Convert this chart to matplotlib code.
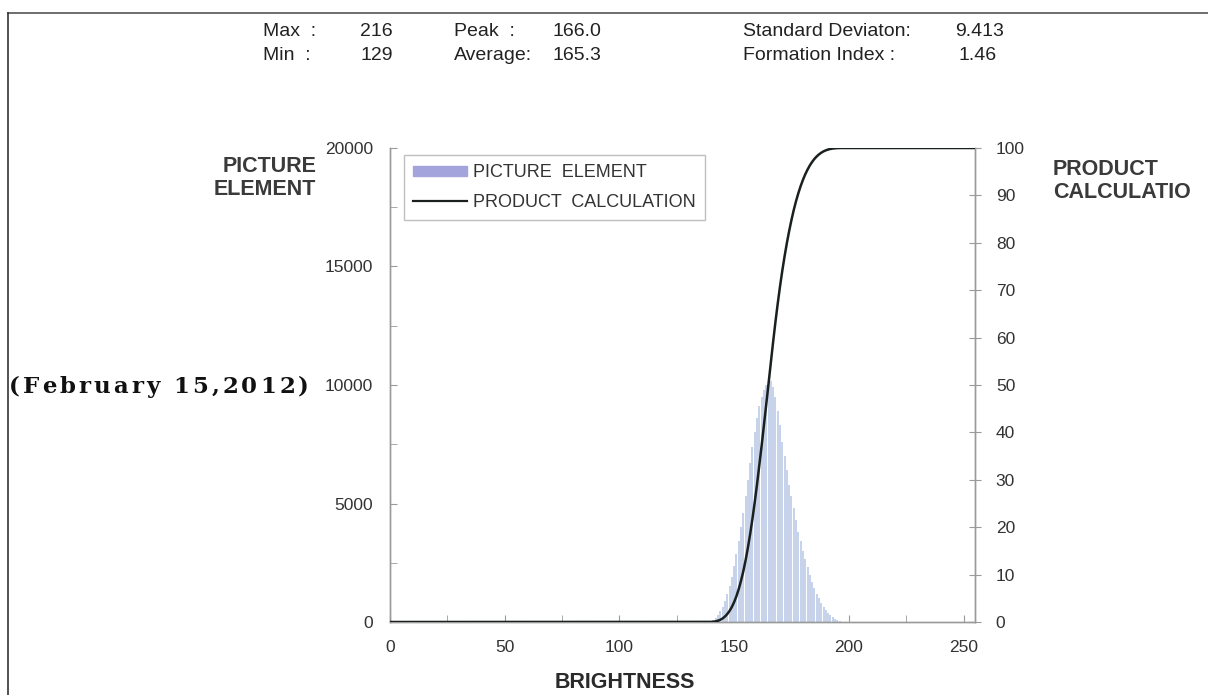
import numpy as np
import matplotlib
matplotlib.use('Agg')
import matplotlib.pyplot as plt
from matplotlib.lines import Line2D
from matplotlib.ticker import MultipleLocator

# brightness histogram (bins of width 1)
brightness = np.arange(140, 197)
counts = np.array([
    50, 100, 180, 300, 450, 650, 900, 1200, 1500, 1900,
    2350, 2850, 3400, 4000, 4600, 5300, 6000, 6700, 7400, 8000,
    8600, 9100, 9500, 9800, 10000, 10100, 10150, 9900, 9500, 8900,
    8300, 7600, 7000, 6400, 5800, 5300, 4800, 4300, 3800, 3400,
    3000, 2650, 2300, 2000, 1700, 1450, 1200, 1000, 800, 650,
    500, 380, 280, 200, 130, 80, 40])

stat_names = [['Max  :', 'Peak  :', 'Standard Deviaton:'],
              ['Min  :', 'Average:', 'Formation Index :']]
stat_vals = [['216', '166.0', '9.413'],
             ['129', '165.3', '1.46']]

x_ticks = [0, 50, 100, 150, 200, 250]
y_ticks = [0, 5000, 10000, 15000, 20000]
y2_ticks = list(range(0, 101, 10))

# cumulative ("product calculation") over the whole 0..255 range
full_x = np.arange(0, 256)
full_counts = np.zeros(256)
full_counts[brightness] = counts
cumul = np.cumsum(full_counts) / full_counts.sum() * 100

W, H = 1208, 695
plt.rcParams['font.family'] = ['Liberation Sans', 'DejaVu Sans']

fig = plt.figure(figsize=(W/100, H/100), dpi=100)
ax = fig.add_axes([390/W, 1-622/H, 585/W, 474/H])
ax2 = ax.twinx()

ax.bar(brightness, counts, width=0.88, color='#c6d3ea', edgecolor='none', zorder=2)
ax2.plot(full_x, cumul, color='#1a1f1f', lw=1.8, zorder=3)

ax.set_xlim(0, 255)
ax.set_ylim(0, 20000)
ax2.set_ylim(0, 100)
ax.set_xticks(x_ticks)
ax.xaxis.set_minor_locator(MultipleLocator(25))
ax.set_yticks(y_ticks)
ax.yaxis.set_minor_locator(MultipleLocator(2500))
ax2.set_yticks(y2_ticks)

for a in (ax, ax2):
    for s in a.spines.values():
        s.set_color('#9a9a9a')
        s.set_linewidth(1.0)
    a.spines['top'].set_visible(False)
ax.tick_params(axis='both', which='both', colors='#9a9a9a', labelcolor='#333333', labelsize=12.5)
ax.tick_params(axis='x', which='both', direction='in', length=5, pad=13)
ax.tick_params(axis='y', which='both', direction='in', length=5, pad=12)
ax2.tick_params(axis='y', colors='#9a9a9a', labelcolor='#333333', labelsize=12.5,
                direction='inout', length=8, pad=11)

# legend
handles = [plt.Rectangle((0, 0), 1, 1, color='#a4a4dc'),
           Line2D([0], [0], color='#1a1f1f', lw=1.6)]
leg = ax.legend(handles, ['PICTURE  ELEMENT', 'PRODUCT  CALCULATION'],
                loc='upper left', bbox_to_anchor=(0.012, 1.0), fontsize=13,
                frameon=True, fancybox=False, handlelength=3.0, handleheight=0.5,
                borderpad=0.5, labelspacing=0.7, handletextpad=0.3, borderaxespad=0.4)
leg.get_frame().set_edgecolor('#b0b0b0')
leg.get_frame().set_linewidth(1.0)
for t in leg.get_texts():
    t.set_color('#333333')

# axis titles
fig.text(316/W, 1-178/H, 'PICTURE\nELEMENT', ha='right', va='center',
         fontsize=15.5, fontweight='bold', color='#3a3a3a', linespacing=1.15)
fig.text(1053/W, 1-181/H, 'PRODUCT\nCALCULATIO', ha='left', va='center',
         fontsize=15.5, fontweight='bold', color='#3a3a3a', linespacing=1.15)
fig.text(625/W, 1-682/H, 'BRIGHTNESS', ha='center', va='center',
         fontsize=15.5, fontweight='bold', color='#2a2a2a')

# date label, drawn letter by letter to get the wide tracking of the original
renderer = fig.canvas.get_renderer()
date_str = '(February 15,2012)'
date_kw = dict(ha='left', va='center', fontsize=16.5, fontweight='bold',
               color='#111111', family='DejaVu Serif')
widths = []
for ch in date_str:
    t = fig.text(0, 0, ch, **date_kw)
    widths.append(t.get_window_extent(renderer).width)
    t.remove()
track = (300 - sum(widths)) / (len(date_str) - 1)
xpos = 9
for ch, w in zip(date_str, widths):
    fig.text(xpos/W, 1-387/H, ch, **date_kw)
    xpos += w + track

# statistics header
name_x = [263, 454, 743]
val_x = [360, 553, 955]
for i in range(2):
    yy = 1 - (32 + 23*i)/H
    for j in range(3):
        fig.text(name_x[j]/W, yy, stat_names[i][j], ha='left', va='center',
                 fontsize=14, color='#222222')
        fig.text((val_x[j] + (3 if (i == 1 and j == 2) else 0))/W, yy, stat_vals[i][j],
                 ha='left', va='center', fontsize=14, color='#222222')

# scan frame lines
fig.add_artist(Line2D([8/W, 1], [1-13/H, 1-13/H], color='#555555', lw=1.2))
fig.add_artist(Line2D([8/W, 8/W], [0, 1-13/H], color='#333333', lw=1.2))

fig.savefig('out.png', dpi=100)
